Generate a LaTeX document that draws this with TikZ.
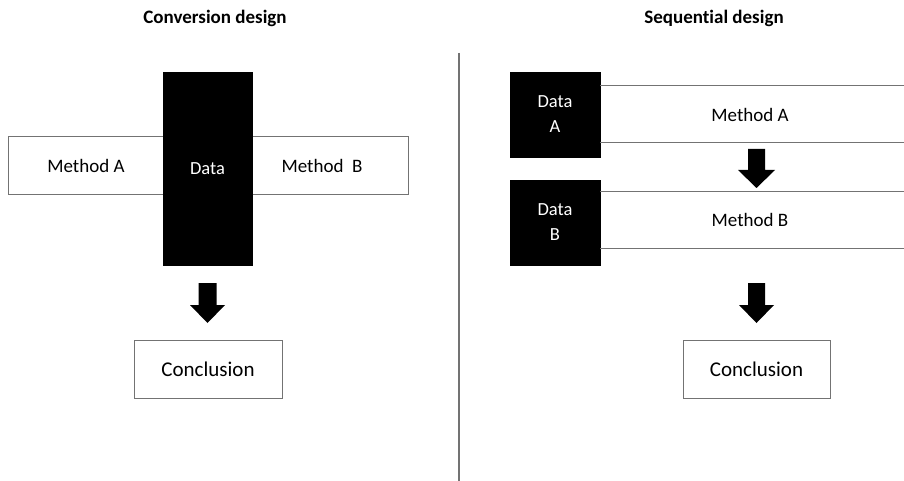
\documentclass[tikz,border=0pt]{standalone}
\usepackage{fontspec}
\setmainfont{Carlito}[Ligatures=NoCommon]
\definecolor{edge}{RGB}{115,115,115}
\begin{document}
\begin{tikzpicture}[x=1pt,y=-1pt,
  box/.style={draw=edge, line width=1pt, fill=white, inner sep=0pt, font=\fontsize{19}{22}\selectfont},
  blk/.style={draw=black, fill=black, text=white, inner sep=0pt, align=center, font=\fontsize{18.5}{25}\selectfont},
  lbl/.style={inner sep=0pt, font=\fontsize{19}{22}\selectfont},
  ttl/.style={inner sep=0pt, font=\fontsize{19}{22}\selectfont\bfseries},
  rule/.style={draw=edge, line width=1pt},
  fatarrow/.style={fill=black}]
\useasboundingbox (0,0) rectangle (904,481);
\fill[white] (0,0) rectangle (904,481);
% titles
\node[ttl] (t1) at (215,18) {Conversion design};
\node[ttl] (t2) at (714,18) {Sequential design};
% left panel
\node[box, minimum width=400, minimum height=57] (bar) at (208,165.5) {};
\node[blk, minimum width=89, minimum height=193] (data) at (207.5,168.5) {Data};
\node[lbl] (ma) at (86,166) {Method A};
\node[lbl] (mb) at (322,166) {Method\ \ B};
\fill[fatarrow] (198.5,283) -- (216.5,283) -- (216.5,305) -- (225,305) -- (207.5,323) -- (190,305) -- (198.5,305) -- cycle;
\node[box, minimum width=148, minimum height=58, font=\fontsize{21}{24}\selectfont] (c1) at (208,369) {Conclusion};
% divider
\draw[draw=edge, line width=1.6pt] (459,53) -- (459,481);
% right panel
\node[blk, minimum width=90, minimum height=85] (da) at (555,114.5) {Data\\A};
\coordinate (a1) at (904,86);
\coordinate (a2) at (904,143);
\draw[rule] (da.east |- a1) -- (a1);
\draw[rule] (da.east |- a2) -- (a2);
\node[lbl] (mra) at (750,115) {Method A};
\fill[fatarrow] (748,149) -- (765,149) -- (765,170) -- (775,170) -- (756.5,188) -- (738,170) -- (748,170) -- cycle;
\node[blk, minimum width=90, minimum height=85] (db) at (555,222.5) {Data\\B};
\coordinate (b1) at (904,191);
\coordinate (b2) at (904,248);
\draw[rule] (db.east |- b1) -- (b1);
\draw[rule] (db.east |- b2) -- (b2);
\node[lbl] (mrb) at (750,220) {Method B};
\fill[fatarrow] (748,283) -- (765,283) -- (765,305) -- (774,305) -- (756.5,323) -- (739,305) -- (748,305) -- cycle;
\node[box, minimum width=147, minimum height=58, font=\fontsize{21}{24}\selectfont] (c2) at (756.5,369) {Conclusion};
\end{tikzpicture}
\end{document}
